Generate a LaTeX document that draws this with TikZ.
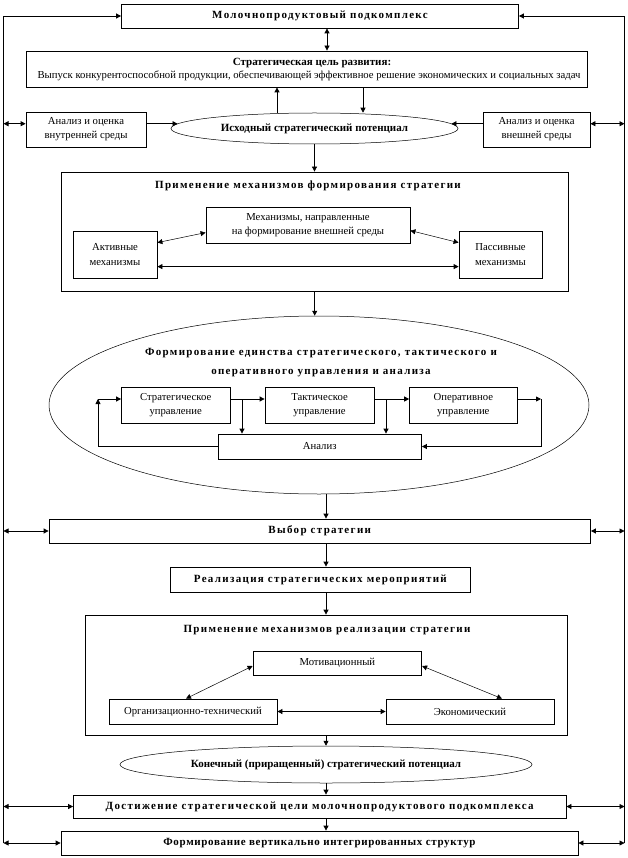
\documentclass[tikz,border=0pt]{standalone}
\usepackage{fontspec}
\setmainfont{Liberation Serif}
\usetikzlibrary{arrows.meta,shapes.geometric,calc}
\newcommand\tA{\fontsize{11}{13}\selectfont\bfseries\addfontfeature{LetterSpace=12}}
\newcommand\tAs{\fontsize{11}{13}\selectfont\bfseries\addfontfeature{LetterSpace=6}}
\newcommand\tB{\fontsize{11}{13}\selectfont\bfseries}
\newcommand\tN{\fontsize{10.7}{14}\selectfont}
\tikzset{
  box/.style={draw, line width=0.8pt, inner sep=1pt, align=center, rectangle},
  ell/.style={draw, line width=0.5pt, ellipse, inner sep=0pt, align=center},
  arr/.style={line width=0.8pt, -{Triangle[length=5pt,width=5pt]}},
  darr/.style={line width=0.8pt, {Triangle[length=5pt,width=5pt]}-{Triangle[length=5pt,width=5pt]}},
  tdarr/.style={line width=0.5pt, {Triangle[length=5pt,width=5pt]}-{Triangle[length=5pt,width=5pt]}},
  txt/.style={inner sep=0pt, align=center},
}
\begin{document}
\begin{tikzpicture}[x=1pt,y=-1pt]
\useasboundingbox (0,0) rectangle (628,858);
% nodes
\node[box, minimum width=397pt, minimum height=24pt, font=\tA] (top) at (320,16) {Молочнопродуктовый подкомплекс};
\node[box, minimum width=561pt, minimum height=36pt] (goal) at (306.5,69) {};
\node[txt, font=\tB] (goalT) at (312,63) {Стратегическая цель развития:};
\node[txt, font=\fontsize{10.7}{13}\selectfont] (goalB) at (309,76) {Выпуск конкурентоспособной продукции, обеспечивающей эффективное решение экономических и социальных задач};
\node[ell, minimum width=287pt, minimum height=31pt, font=\tB] (ell1) at (314.5,128.5) {Исходный стратегический потенциал};
\node[box, minimum width=120pt, minimum height=35pt, font=\tN] (inL) at (86,129.5) {Анализ и оценка\\внутренней среды};
\node[box, minimum width=107pt, minimum height=35pt, font=\tN] (inR) at (536.5,129.5) {Анализ и оценка\\внешней среды};

\node[box, minimum width=507pt, minimum height=119pt] (box2) at (314.7,231.5) {};
\node[txt, font=\tA] (t2) at (308,186) {Применение механизмов формирования стратегии};
\node[box, minimum width=204pt, minimum height=36pt, font=\tN] (mech) at (308,225) {Механизмы, направленные\\на формирование внешней среды};
\node[box, minimum width=84pt, minimum height=47pt, font=\tN] (akt) at (115,254.5) {Активные\\[1pt]механизмы};
\node[box, minimum width=83pt, minimum height=47pt, font=\tN] (pas) at (500.5,254.5) {Пассивные\\[1pt]механизмы};

\node[ell, minimum width=540pt, minimum height=178pt] (big) at (319,405) {};
\node[txt, font=\tA] (t3) at (321,362.5) {Формирование единства стратегического, тактического и\\[6pt]оперативного управления и анализа};
\node[box, minimum width=108.5pt, minimum height=36pt, font=\tN] (strat) at (175.75,405) {Стратегическое\\управление};
\node[box, minimum width=109pt, minimum height=36pt, font=\tN] (takt) at (319.5,405) {Тактическое\\управление};
\node[box, minimum width=107.5pt, minimum height=36pt, font=\tN] (oper) at (463.3,405) {Оперативное\\управление};
\node[box, minimum width=203.5pt, minimum height=25pt, font=\tN] (anal) at (319.75,446.5) {Анализ};

\node[box, minimum width=541.5pt, minimum height=24pt, font=\tA] (vybor) at (319.75,531) {Выбор стратегии};
\node[box, minimum width=300.7pt, minimum height=25pt, font=\tA] (real) at (320.35,579.5) {Реализация стратегических мероприятий};
\node[box, minimum width=482pt, minimum height=120pt] (box3) at (326,675) {};
\node[txt, font=\tA] (t4) at (327,630) {Применение механизмов реализации стратегии};
\node[box, minimum width=168.7pt, minimum height=24pt, font=\tN] (motiv) at (337.35,663) {Мотивационный};
\node[box, minimum width=168pt, minimum height=25pt, font=\tN] (org) at (193,711.5) {Организационно-технический};
\node[box, minimum width=168pt, minimum height=25pt, font=\tN] (econ) at (470,711.5) {Экономический};
\node[ell, minimum width=412pt, minimum height=37pt, font=\tB] (ell2) at (326,764.5) {Конечный (приращенный) стратегический потенциал};
\node[box, minimum width=492.5pt, minimum height=23pt, font=\tA] (dost) at (319.75,806.5) {Достижение стратегической цели молочнопродуктового подкомплекса};
\node[box, minimum width=517pt, minimum height=24pt, font=\tAs] (form) at (319.5,843) {Формирование вертикально интегрированных структур};

% helper coordinates
\coordinate (Lx) at (3.5,0);
\coordinate (Rx) at (624.5,0);
\coordinate (LT) at (3.5,16);
\coordinate (RT) at (624.5,16);
\coordinate (LB) at (3.5,843);
\coordinate (RB) at (624.5,843);
\coordinate (cx) at (326,0);
\coordinate (ux) at (277,0);
\coordinate (dx) at (363,0);
\coordinate (tx) at (327,0);

% outer frame
\draw[arr] (LB) -- (LT) -- (top.west);
\draw[arr] (RB) -- (RT) -- (top.east);
\draw[darr] (tx |- top.south) -- (tx |- goal.north);
\draw[arr] (ux |- ell1.north) -- (ux |- goal.south);
\draw[arr] (dx |- goal.south) -- (dx |- ell1.north);
\draw[arr] (inL.east |- ell1.178) -- (ell1.178);
\draw[arr] (inR.west |- ell1.2) -- (ell1.2);
\draw[darr] (Lx |- ell1.178) -- (inL.west |- ell1.178);
\draw[darr] (inR.east |- ell1.2) -- (Rx |- ell1.2);
\draw[arr] (ell1.south) -- (ell1.south |- box2.north);

% box2 inner
\draw[tdarr] ([yshift=-12pt]akt.north east) -- ([yshift=-26pt]mech.north west);
\draw[tdarr] ([yshift=-24pt]mech.north east) -- ([yshift=-12pt]pas.north west);
\draw[darr] ([yshift=-36pt]akt.north east) -- ([yshift=-36pt]pas.north west);
\draw[arr] (box2.south) -- (box2.south |- big.north);

% big ellipse inner
\coordinate (LL) at (98,399);
\coordinate (RR) at (541,399);
\coordinate (d1) at (242,399);
\coordinate (d2) at (386,399);
\draw[arr] (anal.west) -| (LL);
\draw[arr] (LL) -- (strat.west |- LL);
\draw[arr] (strat.east |- LL) -- (takt.west |- LL);
\draw[arr] (takt.east |- LL) -- (oper.west |- LL);
\draw[arr] (oper.east |- RR) -- (RR);
\draw[arr] (RR) |- (anal.east);
\draw[arr] (d1) -- (d1 |- anal.north);
\draw[arr] (d2) -- (d2 |- anal.north);

\draw[arr] (cx |- big.south) -- (cx |- vybor.north);
\draw[darr] (Lx |- vybor.west) -- (vybor.west);
\draw[darr] (vybor.east) -- (Rx |- vybor.east);
\draw[arr] (cx |- vybor.south) -- (cx |- real.north);
\draw[arr] (cx |- real.south) -- (cx |- box3.north);

% box3 inner
\draw[tdarr] ([xshift=-7pt]org.north) -- ([yshift=-3pt]motiv.west);
\draw[tdarr] ([yshift=-3pt]motiv.east) -- ([xshift=32pt]econ.north);
\draw[darr] (org.east) -- (econ.west);

\draw[arr] (cx |- box3.south) -- (cx |- ell2.north);
\draw[arr] (cx |- ell2.south) -- (cx |- dost.north);
\draw[darr] (Lx |- dost.west) -- (dost.west);
\draw[darr] (dost.east) -- (Rx |- dost.east);
\draw[arr] (cx |- dost.south) -- (cx |- form.north);
\draw[darr] (LB) -- (form.west);
\draw[darr] (form.east) -- (RB);
\end{tikzpicture}
\end{document}
